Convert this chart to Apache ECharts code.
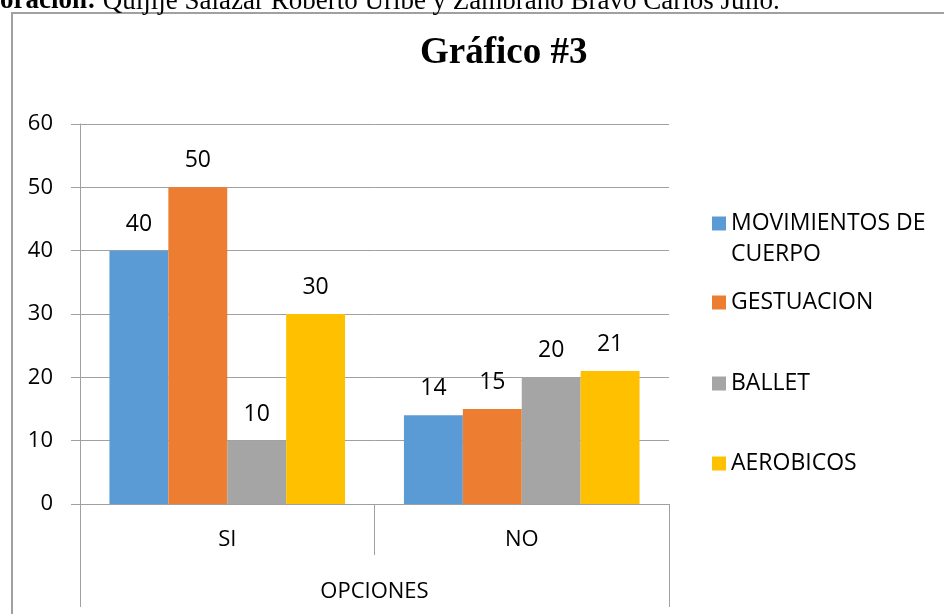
<!DOCTYPE html>
<html>
<head>
<meta charset="utf-8">
<script src="https://cdn.jsdelivr.net/npm/echarts@6/dist/echarts.min.js"></script>
<style>
  html, body { margin: 0; padding: 0; background: #fff; }
  #chart { width: 944px; height: 614px; }
</style>
</head>
<body>
<div id="chart"></div>
<script>
// valores
const categorias = ['SI', 'NO'];
const grupo = ['OPCIONES'];
const movimientos = [40, 14];
const gestuacion = [50, 15];
const ballet = [10, 20];
const aerobicos = [30, 21];
const nombres = ['MOVIMIENTOS DE CUERPO', 'GESTUACION', 'BALLET', 'AEROBICOS'];
const colores = ['#5B9BD5', '#ED7D31', '#A5A5A5', '#FFC000'];

const fuente = 'Open Sans';
const gris = '#a0a0a0';

let chart = echarts.init(document.getElementById('chart'));

function serie(nombre, valores, i) {
    return {
        name: nombre,
        type: 'bar',
        data: valores,
        barGap: '0%',
        barCategoryGap: '20%',
        itemStyle: { color: colores[i] },
        label: {
            show: true,
            position: 'top',
            distance: 15,
            color: '#000',
            fontFamily: fuente,
            fontSize: 23
        }
    };
}

// una leyenda por fila, como en Excel
// la primera lleva una linea vacia arriba para que el cuadro quede en la primera linea
let leyendaTops = [177, 287, 368, 448];
let leyendas = nombres.map((n, i) => ({
    data: [n],
    left: 712,
    top: leyendaTops[i],
    padding: 0,
    itemWidth: 14,
    itemHeight: 14,
    icon: 'rect',
    selectedMode: false,
    formatter: n === 'MOVIMIENTOS DE CUERPO' ? ' \nMOVIMIENTOS DE\nCUERPO' : '{name}',
    textStyle: {
        color: '#000',
        fontFamily: fuente,
        fontSize: 23,
        lineHeight: 31
    }
}));

let option = {
    animation: false,
    backgroundColor: '#fff',
    title: {
        text: 'Gráfico #3',
        left: 420,
        top: 35,
        padding: 0,
        textStyle: {
            fontFamily: 'Liberation Serif',
            fontSize: 37,
            fontWeight: 'bold',
            color: '#000'
        }
    },
    graphic: [
        {
            type: 'rect',
            shape: { x: 12, y: 13, width: 1000, height: 700 },
            style: { fill: 'none', stroke: gris, lineWidth: 2 },
            z: -1
        },
        {
            type: 'text',
            left: 0,
            top: -12,
            style: {
                text: '{b|oración:} Quijije Salazar Roberto Uribe y Zambrano Bravo Carlos Julio.',
                fontFamily: 'Liberation Serif',
                fontSize: 27,
                fill: '#000',
                rich: { b: { fontFamily: 'Liberation Serif', fontSize: 27, fontWeight: 'bold' } }
            }
        }
    ],
    legend: leyendas,
    grid: { left: 80, right: 275, top: 124, bottom: 110 },
    xAxis: [
        {
            type: 'category',
            data: categorias,
            position: 'bottom',
            axisLine: { lineStyle: { color: gris } },
            axisTick: { show: true, length: 51, interval: 0, lineStyle: { color: gris } },
            axisLabel: { margin: 25, color: '#000', fontFamily: fuente, fontSize: 22 }
        },
        {
            type: 'category',
            data: grupo,
            position: 'bottom',
            axisLine: { lineStyle: { color: gris } },
            axisTick: { show: true, length: 103, lineStyle: { color: gris } },
            axisLabel: { margin: 77, color: '#000', fontFamily: fuente, fontSize: 22 }
        }
    ],
    yAxis: {
        type: 'value',
        min: 0,
        max: 60,
        interval: 10,
        axisLine: { show: true, lineStyle: { color: gris } },
        axisTick: { show: true, length: 9, lineStyle: { color: gris } },
        axisLabel: { margin: 27, color: '#000', fontFamily: fuente, fontSize: 22 },
        splitLine: { lineStyle: { color: gris } }
    },
    series: [
        serie(nombres[0], movimientos, 0),
        serie(nombres[1], gestuacion, 1),
        serie(nombres[2], ballet, 2),
        serie(nombres[3], aerobicos, 3)
    ]
};

option && chart.setOption(option);
</script>
</body>
</html>
